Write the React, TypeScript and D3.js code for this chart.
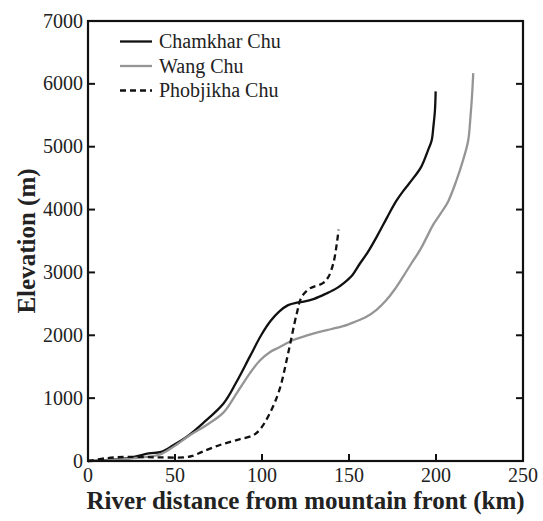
import React from "react";
import * as d3 from "d3";

// Longitudinal river profiles: distance from the mountain front (km) vs elevation (m)
const chamkharKm = [0, 10, 22, 35, 42, 49, 57, 66, 78, 85, 93, 99.5, 105, 110, 115, 120, 124, 130, 137, 143, 147, 152, 156, 161, 166, 172, 177, 181, 185, 191.5, 195.5, 197.5, 198.5, 199.4, 199.8];
const chamkharElev = [0, 15, 40, 120, 145, 250, 390, 600, 920, 1240, 1660, 2000, 2230, 2380, 2480, 2520, 2535, 2580, 2665, 2750, 2830, 2960, 3130, 3330, 3570, 3880, 4130, 4290, 4430, 4680, 4950, 5100, 5320, 5580, 5880];

const wangKm = [0, 12, 24, 41, 49, 58.5, 68, 77.8, 85.4, 93, 98.8, 104.5, 110, 118, 125, 133, 140, 146.6, 153, 160, 166, 171.5, 176, 181, 186, 190.7, 194.5, 198.4, 203, 207, 211.7, 215.6, 218.5, 219.8, 220.8, 221.4];
const wangElev = [0, 15, 40, 100, 225, 410, 570, 770, 1075, 1395, 1600, 1730, 1810, 1925, 1990, 2055, 2100, 2145, 2210, 2295, 2410, 2560, 2720, 2930, 3150, 3350, 3550, 3760, 3950, 4130, 4460, 4790, 5100, 5470, 5850, 6170];

const phobjikhaKm = [0, 10.7, 22, 39, 56, 60, 66, 75.8, 87, 95, 98.8, 104.5, 110, 115, 120, 122.8, 127.5, 135, 138, 141, 143, 144];
const phobjikhaElev = [0, 45, 65, 58, 60, 80, 150, 255, 345, 410, 500, 760, 1130, 1710, 2350, 2610, 2745, 2830, 2920, 3145, 3460, 3680];

const seriesNames = ["Chamkhar Chu", "Wang Chu", "Phobjikha Chu"];
const xTicks = [0, 50, 100, 150, 200, 250];
const yTicks = [0, 1000, 2000, 3000, 4000, 5000, 6000, 7000];

const W = 543;
const H = 521;
const margin = { left: 88, right: 20, top: 21, bottom: 60 };

const x = d3.scaleLinear().domain([0, 250]).range([margin.left, W - margin.right]);
const y = d3.scaleLinear().domain([0, 7000]).range([H - margin.bottom, margin.top]);

const line = d3
  .line<[number, number]>()
  .x((d) => x(d[0]))
  .y((d) => y(d[1]))
  .curve(d3.curveCatmullRom.alpha(0.5));

const zip = (a: number[], b: number[]): [number, number][] => a.map((v, i) => [v, b[i]]);

const styles = [
  { stroke: "#111", dash: undefined as string | undefined },
  { stroke: "#959595", dash: undefined as string | undefined },
  { stroke: "#111", dash: "6,4" },
];

export default function App() {
  const series = [
    zip(chamkharKm, chamkharElev),
    zip(wangKm, wangElev),
    zip(phobjikhaKm, phobjikhaElev),
  ];
  const font = "'Liberation Serif', 'Times New Roman', serif";
  const x0 = x(0);
  const x1 = x(250);
  const y0 = y(0);
  const y1 = y(7000);
  const tick = 7;

  return (
    <svg
      width={W}
      height={H}
      style={{ position: "absolute", left: 0, top: 0, background: "#fff" }}
      fontFamily={font}
    >
      <rect x={0} y={0} width={W} height={H} fill="#fff" />
      {/* data lines */}
      {series.map((s, i) => (
        <path
          key={seriesNames[i]}
          d={line(s) || ""}
          fill="none"
          stroke={styles[i].stroke}
          strokeWidth={2.3}
          strokeDasharray={styles[i].dash}
          strokeLinejoin="round"
        />
      ))}

      {/* frame */}
      <rect x={x0} y={y1} width={x1 - x0} height={y0 - y1} fill="none" stroke="#111" strokeWidth={2.2} />

      {/* y ticks (left and right, inward) */}
      {yTicks.map((t) => (
        <g key={"y" + t}>
          {t > 0 && t < 7000 && (
            <>
              <line x1={x0} x2={x0 + tick} y1={y(t)} y2={y(t)} stroke="#111" strokeWidth={2} />
              <line x1={x1} x2={x1 - tick} y1={y(t)} y2={y(t)} stroke="#111" strokeWidth={2} />
            </>
          )}
          <text x={x0 - 5} y={y(t)} dy="0.33em" textAnchor="end" fontSize={20} fill="#222">
            {t}
          </text>
        </g>
      ))}

      {/* x ticks (bottom, inward) */}
      {xTicks.map((t) => (
        <g key={"x" + t}>
          {t > 0 && t < 250 && (
            <line x1={x(t)} x2={x(t)} y1={y0} y2={y0 - tick} stroke="#111" strokeWidth={2} />
          )}
          <text x={x(t)} y={y0 + 21} textAnchor="middle" fontSize={20} fill="#222">
            {t}
          </text>
        </g>
      ))}

      {/* axis titles */}
      <text
        x={(x0 + x1) / 2}
        y={509}
        textAnchor="middle"
        fontSize={25}
        fontWeight="bold"
        fill="#222"
      >
        River distance from mountain front (km)
      </text>
      <text
        transform={`translate(35, ${(y0 + y1) / 2}) rotate(-90)`}
        textAnchor="middle"
        fontSize={25}
        fontWeight="bold"
        fill="#222"
      >
        Elevation (m)
      </text>

      {/* legend */}
      {seriesNames.map((name, i) => {
        const ly = 41.5 + i * 24.5;
        return (
          <g key={"lg" + name}>
            <line
              x1={120}
              x2={152}
              y1={ly}
              y2={ly}
              stroke={styles[i].stroke}
              strokeWidth={2.3}
              strokeDasharray={styles[i].dash}
            />
            <text x={159} y={ly} dy="0.33em" fontSize={20} fill="#222">
              {name}
            </text>
          </g>
        );
      })}
    </svg>
  );
}
